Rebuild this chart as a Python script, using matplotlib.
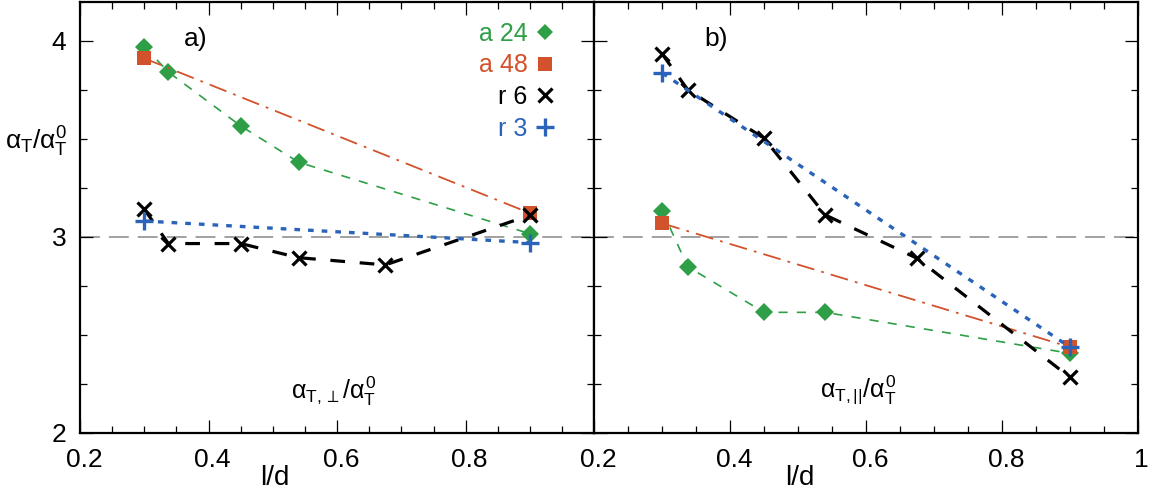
import matplotlib
matplotlib.use("Agg")
import matplotlib.pyplot as plt
from matplotlib.lines import Line2D
from matplotlib.ticker import MultipleLocator
import matplotlib.transforms as mtransforms

plt.rcParams['font.family'] = ['Liberation Sans', 'DejaVu Sans']
plt.rcParams['mathtext.fontset'] = 'custom'
plt.rcParams['mathtext.rm'] = 'Liberation Sans'
plt.rcParams['mathtext.it'] = 'Liberation Sans'
plt.rcParams['mathtext.bf'] = 'Liberation Sans:bold'

# ---------------- data ----------------
x_a24 = [0.3, 0.3375, 0.45, 0.54, 0.9]
x_a48 = [0.3, 0.9]
x_r6 = [0.3, 0.3375, 0.45, 0.54, 0.675, 0.9]
x_r3 = [0.3, 0.9]

# panel a) perpendicular
a24_perp = [3.97, 3.84, 3.565, 3.38, 3.015]
a48_perp = [3.91, 3.12]
r6_perp = [3.14, 2.965, 2.965, 2.893, 2.856, 3.11]
r3_perp = [3.08, 2.97]

# panel b) parallel
a24_par = [3.133, 2.847, 2.614, 2.614, 2.405]
a48_par = [3.068, 2.437]
r6_par = [3.932, 3.75, 3.502, 3.111, 2.89, 2.283]
r3_par = [3.835, 2.437]

series_labels = ['a 24', 'a 48', 'r 6', 'r 3']
ref_level = 3.0

xticks_a = [0.2, 0.4, 0.6, 0.8]
xticklabels_a = ['0.2', '0.4', '0.6', '0.8']
xticks_b = [0.2, 0.4, 0.6, 0.8, 1.0]
xticklabels_b = ['0.2', '0.4', '0.6', '0.8', '1']
yticks = [2, 3, 4]
yticklabels = ['2', '3', '4']

# ---------------- styles ----------------
GREEN = '#2e9f47'
RED = '#d2522b'
BLUE = '#2a63b9'
BLACK = '#000000'

W, H = 1153, 500
fig = plt.figure(figsize=(W / 100, H / 100), dpi=100)

def fr(px0, py_top, px1, py_bot):
    return [px0 / W, 1 - py_bot / H, (px1 - px0) / W, (py_bot - py_top) / H]

axA = fig.add_axes(fr(80, 1.5, 594.3, 432.7))
axB = fig.add_axes(fr(594.3, 1.5, 1137.7, 432.7))

MS_D, MS_S, MS_X, MS_P = 9.5, 9.5, 10.5, 13.5

def draw(ax, a24, a48, r6, r3):
    ax.axhline(ref_level, color='#9a9a9a', lw=1.3, dashes=(11, 5), zorder=1)
    ax.plot(x_a24, a24, color=GREEN, lw=1.2, dashes=(5.5, 5.5),
            marker='D', ms=MS_D, mew=0, zorder=3)
    ax.plot(x_a48, a48, color=RED, lw=1.3, dashes=(10, 4, 1.5, 4),
            marker='s', ms=MS_S, mew=0, zorder=4)
    ax.plot(x_r6, r6, color=BLACK, lw=2.3, dashes=(4.6, 4.6),
            marker='x', ms=MS_X, mew=2.3, zorder=5)
    ax.plot(x_r3, r3, color=BLUE, lw=2.4, dashes=(1.7, 2.4),
            marker='+', ms=MS_P, mew=2.4, zorder=6)
    ax.set_xlim(0.2, 1.0)
    ax.set_ylim(2, 4.2)
    ax.xaxis.set_minor_locator(MultipleLocator(0.05))
    ax.yaxis.set_minor_locator(MultipleLocator(0.25))
    ax.tick_params(which='both', direction='in', top=True, right=True,
                   width=0.9, color='black')
    ax.tick_params(which='major', length=9.5)
    ax.tick_params(which='minor', length=5)
    ax.tick_params(axis='x', which='major', labelsize=19, pad=11)
    ax.tick_params(axis='y', which='major', labelsize=19, pad=10)
    for s in ax.spines.values():
        s.set_linewidth(1.6)
    ax.text(0.379, -0.105, 'l/d', transform=ax.transAxes, fontsize=20,
            ha='center', va='center')

draw(axA, a24_perp, a48_perp, r6_perp, r3_perp)
draw(axB, a24_par, a48_par, r6_par, r3_par)

axA.set_xticks(xticks_a)
axA.set_xticklabels(xticklabels_a)
axA.set_yticks(yticks)
axA.set_yticklabels(yticklabels)
axB.set_xticks(xticks_b)
axB.set_xticklabels(xticklabels_b)
axB.set_yticks(yticks)
axB.set_yticklabels([])

off = mtransforms.ScaledTranslation(4 / 100, 0, fig.dpi_scale_trans)
for ax in (axA, axB):
    for lab in ax.get_xticklabels():
        lab.set_transform(lab.get_transform() + off)

axA.text(0.225, 0.912, 'a)', transform=axA.transAxes, fontsize=19,
         ha='center', va='center')
axB.text(0.224, 0.912, 'b)', transform=axB.transAxes, fontsize=19,
         ha='center', va='center')

axA.text(0.494, 0.097, r'$\alpha_{\mathrm{T},\perp}/\alpha_\mathrm{T}^0$',
         transform=axA.transAxes, fontsize=18, ha='center', va='center')
axB.text(0.485, 0.097, r'$\alpha_{\mathrm{T},||}/\alpha_\mathrm{T}^0$',
         transform=axB.transAxes, fontsize=18, ha='center', va='center')

fig.text(36 / W, 1 - 142 / H, r'$\alpha_\mathrm{T}/\alpha_\mathrm{T}^0$',
         fontsize=19, ha='center', va='center')

handles = [
    Line2D([], [], ls='none', marker='D', color=GREEN, ms=MS_D * 0.85, mew=0),
    Line2D([], [], ls='none', marker='s', color=RED, ms=MS_S, mew=0),
    Line2D([], [], ls='none', marker='x', color=BLACK, ms=MS_X, mew=2.3),
    Line2D([], [], ls='none', marker='+', color=BLUE, ms=MS_P, mew=2.4),
]
leg = axA.legend(handles, series_labels, loc='upper right',
                 bbox_to_anchor=((555 - 80) / 514.3, (432.7 - 22) / 431.2),
                 frameon=False, markerfirst=False, fontsize=18,
                 handlelength=0.8, handletextpad=0.3, labelspacing=0.3,
                 borderpad=0, borderaxespad=0,
                 labelcolor=[GREEN, RED, BLACK, BLUE])

fig.savefig('out.png', dpi=100)
